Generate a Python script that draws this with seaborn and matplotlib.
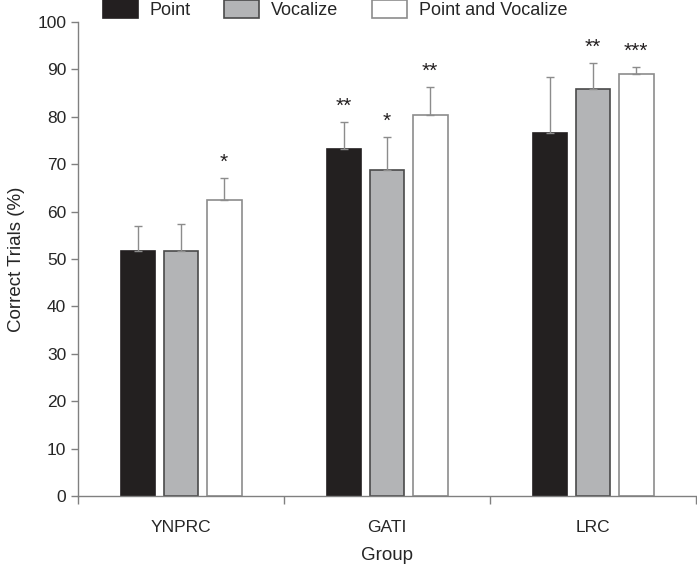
import numpy as np
import pandas as pd
import seaborn as sns
import matplotlib.pyplot as plt
from matplotlib.patches import Patch

# data
groups = ["YNPRC", "GATI", "LRC"]
conditions = ["Point", "Vocalize", "Point and Vocalize"]

point_mean = [51.8, 73.2, 76.6]
point_err = [5.2, 5.8, 11.8]
vocal_mean = [51.8, 68.8, 85.9]
vocal_err = [5.6, 7.0, 5.4]
both_mean = [62.4, 80.4, 89.0]
both_err = [4.7, 6.0, 1.6]

point_sig = ["", "**", ""]
vocal_sig = ["", "*", "**"]
both_sig = ["*", "**", "***"]

means = [point_mean, vocal_mean, both_mean]
errs = [point_err, vocal_err, both_err]
sigs = [point_sig, vocal_sig, both_sig]

fills = ["#231f20", "#b3b4b6", "#ffffff"]
edges = ["#231f20", "#4a4a4a", "#8c8c8c"]

rows = []
for c, m in zip(conditions, means):
    for g, v in zip(groups, m):
        rows.append({"Group": g, "Condition": c, "Correct": v})
df = pd.DataFrame(rows)

sns.set_style("ticks")
plt.rcParams["font.family"] = ["Liberation Sans", "DejaVu Sans"]

fig = plt.figure(figsize=(6.97, 5.65), dpi=100)
ax = fig.add_axes([0.112, 0.122, 0.8866, 0.839])

sns.barplot(data=df, x="Group", y="Correct", hue="Condition", order=groups,
            hue_order=conditions, palette=fills, width=0.627, gap=0.19,
            errorbar=None, legend=False, ax=ax)

# patches come out hue by hue, group by group
for i, c in enumerate(conditions):
    bars = ax.patches[i * len(groups):(i + 1) * len(groups)]
    for j, bar in enumerate(bars):
        bar.set_edgecolor(edges[i])
        bar.set_linewidth(1.2)
        x = bar.get_x() + bar.get_width() / 2
        top = bar.get_height()
        ax.errorbar(x, top, yerr=[[0], [errs[i][j]]], fmt="none",
                    ecolor="#8c8c8c", elinewidth=1, capsize=3, capthick=1,
                    zorder=1)
        if sigs[i][j]:
            ax.text(x, top + errs[i][j] + 1.3, sigs[i][j], ha="center",
                    va="bottom", fontsize=15, color="#231f20")

ax.set_ylim(0, 100)
ax.set_xlim(-0.5, 2.5)
ax.set_yticks(np.arange(0, 101, 10))
ax.set_xticks([-0.5, 0.5, 1.5, 2.5])
ax.set_xticklabels([])
ax.set_xticks([0, 1, 2], minor=True)
ax.set_xticklabels(groups, minor=True)
ax.tick_params(axis="x", which="minor", length=0, pad=17, labelsize=12.5)
ax.tick_params(axis="x", which="major", length=6, color="#808080", width=1)
ax.tick_params(axis="y", length=5, color="#808080", width=1, labelsize=12.5)

for s in ["top", "right"]:
    ax.spines[s].set_visible(False)
for s in ["left", "bottom"]:
    ax.spines[s].set_color("#808080")
    ax.spines[s].set_linewidth(1)

ax.set_xlabel("Group", fontsize=13.5, labelpad=9)
ax.set_ylabel("Correct Trials (%)", fontsize=13.5, labelpad=9)

handles = [Patch(facecolor=f, edgecolor=e, linewidth=1.2) for f, e in zip(fills, edges)]
ax.legend(handles, conditions, loc="center left", bbox_to_anchor=(0.04, 1.026),
          ncol=3, frameon=False, fontsize=13, handlelength=1.95,
          handleheight=1.15, handletextpad=0.65, columnspacing=1.85,
          borderaxespad=0, borderpad=0)

fig.savefig("out.png", dpi=100)
